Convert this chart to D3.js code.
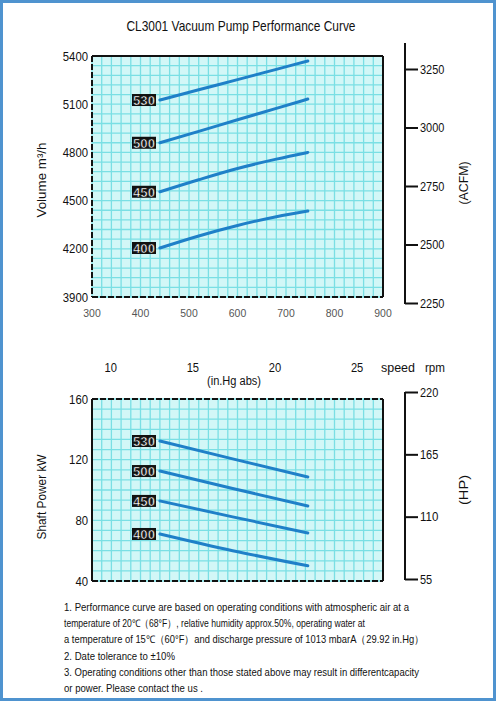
<!DOCTYPE html>
<html>
<head>
<meta charset="utf-8">
<script src="https://cdn.jsdelivr.net/npm/d3@7"></script>
<style>
  body { margin: 0; background: #fff; }
  text { font-family: "Liberation Sans", Arial, sans-serif; }
</style>
</head>
<body>
<script>
// data
var mbarTicks = [300, 400, 500, 600, 700, 800, 900];
var inHgTicks = [10, 15, 20, 25];
var volTicks = [3900, 4200, 4500, 4800, 5100, 5400];
var acfmTicks = [2250, 2500, 2750, 3000, 3250];
var kwTicks = [40, 80, 120, 160];
var hpTicks = [55, 110, 165, 220];
var speeds = ["530", "500", "450", "400"];

var volX = [440, 520, 600, 680, 745];          // mbar abs
var vol530 = [5126, 5190, 5253, 5317, 5369];
var vol500 = [4860, 4931, 5003, 5074, 5132];
var vol450 = [4555, 4630, 4700, 4758, 4800];
var vol400 = [4205, 4280, 4345, 4400, 4435];

var kwX = [440, 590, 745];
var kw530 = [132.3, 120.5, 108.6];
var kw500 = [112.5, 101, 89.5];
var kw450 = [92.8, 82.3, 71.7];
var kw400 = [71, 60, 50];

var notes = [
  "1. Performance curve are based on operating conditions with atmospheric air at  a",
  "temperature of 20\u2103\uff0868\u00b0F\uff09, relative humidity approx.50%,  operating water at",
  "a temperature of 15\u2103\uff0860\u00b0F\uff09and discharge pressure of 1013 mbarA\uff0829.92 in.Hg\uff09",
  "2. Date tolerance to \u00b110%",
  "3. Operating conditions other than those stated above may result in differentcapacity",
  "or power. Please contact the us ."
];
var noteWidths = [345, 301, 360, 111, 355, 139];

var W = 496, H = 701;
var svg = d3.select("body").append("svg").attr("width", W).attr("height", H);

// outer blue frame
svg.append("rect").attr("x", 1.5).attr("y", 1.5).attr("width", W - 3).attr("height", H - 3)
  .attr("fill", "#fff").attr("stroke", "#4f93cf").attr("stroke-width", 3);

var left = 92, right = 383;
var x = d3.scaleLinear().domain([300, 900]).range([left, right]);

var yVol = d3.scaleLinear().domain([3900, 5400]).range([297, 56]);
var yAcfm = d3.scaleLinear().domain([2250, 3250]).range([303, 69]);
var yKw = d3.scaleLinear().domain([40, 160]).range([581, 399]);
var yHp = d3.scaleLinear().domain([55, 220]).range([579, 392]);

var gridBg = "#d2f7f7", gridLine = "#7adfe4", blue = "#1f80c8";

// squeeze text to a narrow look
function narrow(sel, perChar) {
  sel.attr("lengthAdjust", "spacingAndGlyphs")
    .attr("textLength", function(){ return this.textContent.length * perChar; });
}

svg.append("text").attr("x", 241).attr("y", 31).attr("text-anchor", "middle")
  .attr("font-size", 15).attr("fill", "#111")
  .attr("textLength", 229).attr("lengthAdjust", "spacingAndGlyphs")
  .text("CL3001 Vacuum Pump Performance Curve");

function panel(y, yStep, dashTop) {
  var y0 = y.range()[1], y1 = y.range()[0];
  var g = svg.append("g");
  g.append("rect").attr("x", left).attr("y", y0).attr("width", right - left).attr("height", y1 - y0)
    .attr("fill", gridBg);
  g.selectAll(".vg").data(d3.range(300, 900.1, 20)).enter().append("line")
    .attr("x1", function(d){ return x(d); }).attr("x2", function(d){ return x(d); })
    .attr("y1", y0).attr("y2", y1)
    .attr("stroke", gridLine).attr("stroke-width", 1.3);
  var d = y.domain();
  g.selectAll(".hg").data(d3.range(d[0], d[1] + 0.01, yStep)).enter().append("line")
    .attr("y1", function(v){ return y(v); }).attr("y2", function(v){ return y(v); })
    .attr("x1", left).attr("x2", right)
    .attr("stroke", gridLine).attr("stroke-width", 1.3);
  // frame
  var edges = [
    [left, y0, right, y0, dashTop],
    [left, y1, right, y1, true],
    [left, y0, left, y1, !dashTop],
    [right, y0, right, y1, false]
  ];
  edges.forEach(function(e){
    g.append("line").attr("x1", e[0]).attr("y1", e[1]).attr("x2", e[2]).attr("y2", e[3])
      .attr("stroke", "#111").attr("stroke-width", 2)
      .attr("stroke-dasharray", e[4] ? "6,2" : null);
  });
  return g;
}

function leftAxis(y, ticks) {
  var ax = svg.append("g").attr("transform", "translate(" + (left - 4) + ",0)")
    .call(d3.axisLeft(y).tickValues(ticks).tickFormat(d3.format("d")).tickSize(0).tickPadding(0));
  ax.select(".domain").remove();
  ax.selectAll("line").remove();
  ax.selectAll("text").attr("font-size", 13).attr("fill", "#111")
    .style("font-family", "'Liberation Sans', sans-serif").call(narrow, 6.3);
}

function rightAxis(y, ticks, yTop) {
  var ax = svg.append("g").attr("transform", "translate(405,0)")
    .call(d3.axisRight(y).tickValues(ticks).tickFormat(d3.format("d")).tickSize(13).tickPadding(2));
  ax.select(".domain").remove();
  ax.selectAll("line").attr("stroke", "#111").attr("stroke-width", 2);
  ax.selectAll("text").attr("font-size", 13).attr("fill", "#111")
    .style("font-family", "'Liberation Sans', sans-serif").call(narrow, 6.1);
  svg.append("line").attr("x1", 405).attr("x2", 405)
    .attr("y1", yTop).attr("y2", y(ticks[0]) + 1)
    .attr("stroke", "#111").attr("stroke-width", 2);
}

function curves(xs, series, y) {
  var line = d3.line().x(function(d){ return x(d[0]); }).y(function(d){ return y(d[1]); })
    .curve(d3.curveMonotoneX);
  series.forEach(function(s, i) {
    var pts = xs.map(function(v, j){ return [v, s[j]]; });
    svg.append("path").attr("d", line(pts)).attr("fill", "none")
      .attr("stroke", blue).attr("stroke-width", 3).attr("stroke-linecap", "round");
    var cy = y(s[0]);
    svg.append("rect").attr("x", 132).attr("y", cy - 6).attr("width", 24).attr("height", 12)
      .attr("fill", "#111");
    svg.append("text").attr("x", 144).attr("y", cy + 5).attr("text-anchor", "middle")
      .attr("font-size", 13).attr("font-weight", "bold").attr("fill", "#fff")
      .attr("stroke", "#111").attr("stroke-width", 0.6)
      .attr("textLength", 22).attr("lengthAdjust", "spacingAndGlyphs")
      .text(speeds[i]);
  });
}

function vTitle(tx, ty, txt, len) {
  svg.append("text").attr("transform", "translate(" + tx + "," + ty + ") rotate(-90)")
    .attr("text-anchor", "middle").attr("font-size", 13).attr("fill", "#111")
    .attr("textLength", len).attr("lengthAdjust", "spacingAndGlyphs").text(txt);
}

// upper chart: volume
panel(yVol, 60, false);
leftAxis(yVol, volTicks);
rightAxis(yAcfm, acfmTicks, 43);
curves(volX, [vol530, vol500, vol450, vol400], yVol);
vTitle(46, 180, "Volume m\u00b3/h", 75);
vTitle(468, 183, "(ACFM)", 43);

// x labels (mbar abs and in.Hg abs)
svg.selectAll(".xt").data(mbarTicks).enter().append("text")
  .attr("x", function(d){ return x(d); }).attr("y", 317).attr("text-anchor", "middle")
  .attr("font-size", 11.5).attr("fill", "#555").text(function(d){ return d; })
  .call(narrow, 5.8);
svg.selectAll(".xh").data(inHgTicks).enter().append("text")
  .attr("x", function(d){ return x(d * 33.8639); }).attr("y", 372).attr("text-anchor", "middle")
  .attr("font-size", 13).attr("fill", "#111").text(function(d){ return d; })
  .call(narrow, 6.2);
svg.append("text").attr("x", 381).attr("y", 372).attr("font-size", 13).attr("fill", "#111")
  .attr("textLength", 34).attr("lengthAdjust", "spacingAndGlyphs").text("speed");
svg.append("text").attr("x", 425).attr("y", 372).attr("font-size", 13).attr("fill", "#111")
  .attr("textLength", 20).attr("lengthAdjust", "spacingAndGlyphs").text("rpm");
svg.append("text").attr("x", 234).attr("y", 385).attr("text-anchor", "middle")
  .attr("font-size", 12).attr("fill", "#111")
  .attr("textLength", 54).attr("lengthAdjust", "spacingAndGlyphs").text("(in.Hg abs)");

// lower chart: shaft power
panel(yKw, 40 / 6, true);
leftAxis(yKw, kwTicks);
rightAxis(yHp, hpTicks, 392);
curves(kwX, [kw530, kw500, kw450, kw400], yKw);
vTitle(46, 497, "Shaft Power kW", 85);
vTitle(468, 490, "(HP)", 30);

// notes
svg.selectAll(".note").data(notes).enter().append("text")
  .attr("x", 64).attr("y", function(d, i){ return 611 + i * 16.2; })
  .attr("font-size", 10.5).attr("fill", "#111")
  .attr("textLength", function(d, i){ return noteWidths[i]; })
  .attr("lengthAdjust", "spacingAndGlyphs")
  .text(function(d){ return d; });
</script>
</body>
</html>
